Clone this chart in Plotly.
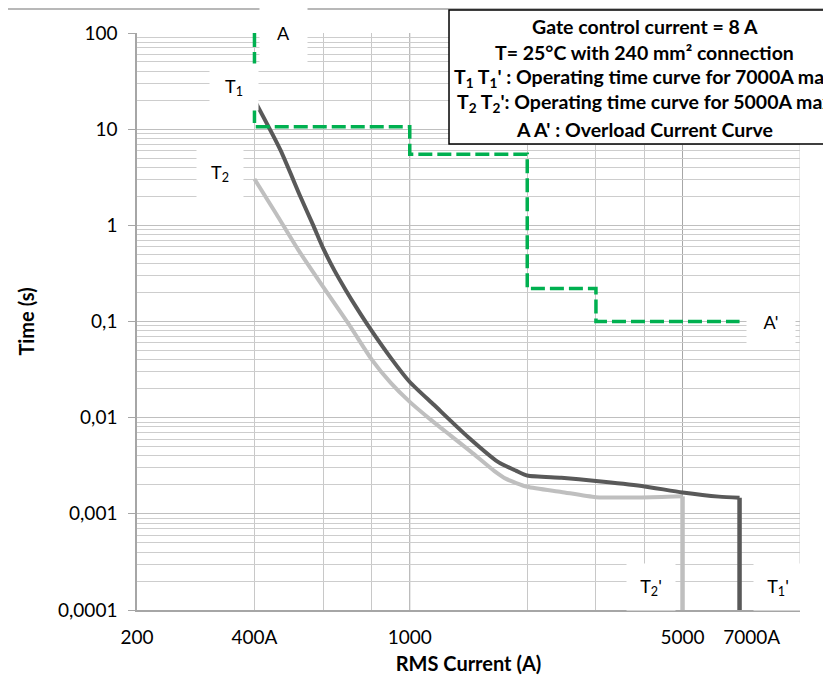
import numpy as np
import plotly.graph_objects as go

# ---------------- data ----------------
T1_CURRENT = [400, 466, 525, 564, 601, 642, 685, 731, 780, 894, 1000, 1153, 1410, 1683, 1874, 2000,
              2446, 3000, 3930, 5000, 6200, 7000, 7000]
T1_TIME = [20, 6.08, 1.97, 1.03, 0.568, 0.336, 0.213, 0.1384, 0.0922, 0.0419, 0.0235, 0.0136, 0.0063,
           0.00347, 0.0028, 0.0025, 0.00237, 0.0022, 0.00195, 0.00167, 0.00151, 0.00147, 0.0001]

T2_CURRENT = [400, 455, 518, 600, 697, 800, 894, 1000, 1133, 1275, 1436, 1645, 1766, 2000, 2446, 3000,
              3930, 5000, 5000]
T2_TIME = [3.03, 1.31, 0.555, 0.229, 0.0944, 0.0399, 0.023, 0.0146, 0.00949, 0.00647, 0.00441, 0.0028,
           0.00231, 0.00191, 0.00169, 0.00149, 0.00148, 0.00152, 0.0001]

OVERLOAD_CURRENT = [400, 400, 1000, 1000, 2000, 2000, 3000, 3000, 7000]
OVERLOAD_TIME = [100, 10.6, 10.6, 5.5, 5.5, 0.22, 0.22, 0.1, 0.1]

X_TICKS = [200, 400, 1000, 5000, 7000]
X_TICK_LABELS = ["200", "400A", "1000", "5000", "\u00a0\u00a0\u00a0\u00a0\u00a07000A"]
X_GRID_LIGHT = [400, 600, 800, 2000, 3000, 4000]
X_GRID_EDGE = [10000]
X_GRID_DARK = [1000, 5000]

Y_TICKS = [0.0001, 0.001, 0.01, 0.1, 1, 10, 100]
Y_TICK_LABELS = ["0,0001", "0,001", "0,01", "0,1", "1", "10", "100"]
Y_GRID_MINOR = [m * 10.0 ** k for k in range(-4, 2) for m in range(2, 10)]

CURVE_LABELS = [
    ("A", 476, 100, 47, 60),
    ("T<sub>1</sub>", 355, 27.5, 48, 46),
    ("T<sub>2</sub>", 327, 3.5, 46, 48),
    ("A'", 8430, 0.1, 48, 44),
    ("T<sub>2</sub>'", 4140, 0.000174, 48, 46),
    ("T<sub>1</sub>'", 8790, 0.000174, 48, 46),
]

INFO_LINES = [
    "Gate control current = 8 A",
    "T= 25°C with 240 mm² connection",
    "T<sub>1</sub> T<sub>1</sub>' : Operating time curve for 7000A max",
    "T<sub>2</sub> T<sub>2</sub>': Operating time curve for 5000A max",
    "A A' : Overload Current Curve",
]

FONT = "Lato"
DARK = "#595959"
LIGHT = "#BFBFBF"
GREEN = "#00B050"

fig = go.Figure()

# curved parts (spline) and vertical cut-offs (straight)
fig.add_trace(go.Scatter(x=T2_CURRENT[:-1], y=T2_TIME[:-1], mode="lines",
                         line=dict(color=LIGHT, width=4, shape="spline", smoothing=0.6),
                         showlegend=False, hoverinfo="skip"))
fig.add_trace(go.Scatter(x=T2_CURRENT[-2:], y=T2_TIME[-2:], mode="lines",
                         line=dict(color=LIGHT, width=4.5),
                         showlegend=False, hoverinfo="skip"))
fig.add_trace(go.Scatter(x=T1_CURRENT[:-1], y=T1_TIME[:-1], mode="lines",
                         line=dict(color=DARK, width=4, shape="spline", smoothing=0.6),
                         showlegend=False, hoverinfo="skip"))
fig.add_trace(go.Scatter(x=T1_CURRENT[-2:], y=T1_TIME[-2:], mode="lines",
                         line=dict(color=DARK, width=4.5),
                         showlegend=False, hoverinfo="skip"))
fig.add_trace(go.Scatter(x=OVERLOAD_CURRENT, y=OVERLOAD_TIME, mode="lines",
                         line=dict(color=GREEN, width=3.5, dash="14px,5px"),
                         showlegend=False, hoverinfo="skip"))

shapes = []
for gx in X_GRID_DARK:
    shapes.append(dict(type="line", xref="x", yref="paper", x0=gx, x1=gx, y0=0, y1=1,
                       line=dict(color="#A6A6A6", width=1), layer="between"))
for gx in X_GRID_EDGE:
    shapes.append(dict(type="line", xref="x", yref="paper", x0=gx, x1=gx, y0=0, y1=1,
                       line=dict(color="#CFCFCF", width=1), layer="between"))
# chart border line at the top
shapes.append(dict(type="line", xref="paper", yref="paper", x0=-0.1976, x1=1.1, y0=1.0416, y1=1.0416,
                   line=dict(color="#A0A0A0", width=1.5), layer="above"))
# info box
shapes.append(dict(type="rect", xref="paper", yref="paper", x0=0.4706, x1=1.068, y0=0.8076, y1=1.0399,
                   line=dict(color="#000000", width=1.5), fillcolor="white", layer="above"))

annotations = []
for text, cx, cy, w, h in CURVE_LABELS:
    annotations.append(dict(x=np.log10(cx), y=np.log10(cy), xref="x", yref="y", text=text,
                            showarrow=False, bgcolor="white", width=w, height=h, borderpad=0,
                            font=dict(family=FONT, size=18, color="#000000"),
                            xanchor="center", yanchor="middle"))

INFO_Y = [1.0104, 0.967, 0.922, 0.879, 0.8336]
for line, ly in zip(INFO_LINES, INFO_Y):
    annotations.append(dict(x=0.766, y=ly, xref="paper", yref="paper", text="<b>" + line + "</b>",
                            showarrow=False, xanchor="center", yanchor="middle",
                            font=dict(family=FONT, size=19.5, color="#000000")))

# the page body adds an 8px offset, so the figure is 8px smaller and margins 8px tighter
fig.update_layout(
    width=823, height=672,
    margin=dict(l=129, r=31, t=25, b=70, autoexpand=False),
    paper_bgcolor="white", plot_bgcolor="white",
    font=dict(family=FONT, size=19, color="#000000"),
    shapes=shapes, annotations=annotations,
    xaxis=dict(type="log", range=[np.log10(200), np.log10(10000)], automargin=False,
               tickmode="array", tickvals=X_TICKS, ticktext=X_TICK_LABELS, showgrid=False,
               tickangle=0,
               ticks="", showline=True, linecolor="#A6A6A6", linewidth=1.5,
               ticklabelstandoff=9, zeroline=False,
               minor=dict(tickmode="array", tickvals=X_GRID_LIGHT, showgrid=True, gridcolor="#C8C8C8",
                          gridwidth=1, ticks=""),
               title=dict(text="<b>RMS Current (A)</b>", font=dict(family=FONT, size=20), standoff=10)),
    yaxis=dict(type="log", range=[-4, 2], automargin=False,
               tickmode="array", tickvals=Y_TICKS, ticktext=Y_TICK_LABELS, showgrid=True,
               gridcolor="#BFBFBF", gridwidth=1,
               ticks="outside", ticklen=7, tickcolor="#A6A6A6", showline=True, linecolor="#A6A6A6",
               linewidth=1.5, ticklabelstandoff=7, zeroline=False,
               minor=dict(tickmode="array", tickvals=Y_GRID_MINOR, showgrid=True, gridcolor="#CDCDCD",
                          gridwidth=1, ticks=""),
               title=dict(text="<b>Time (s)</b>", font=dict(family=FONT, size=20), standoff=18)),
)

fig.write_html("out.html")
